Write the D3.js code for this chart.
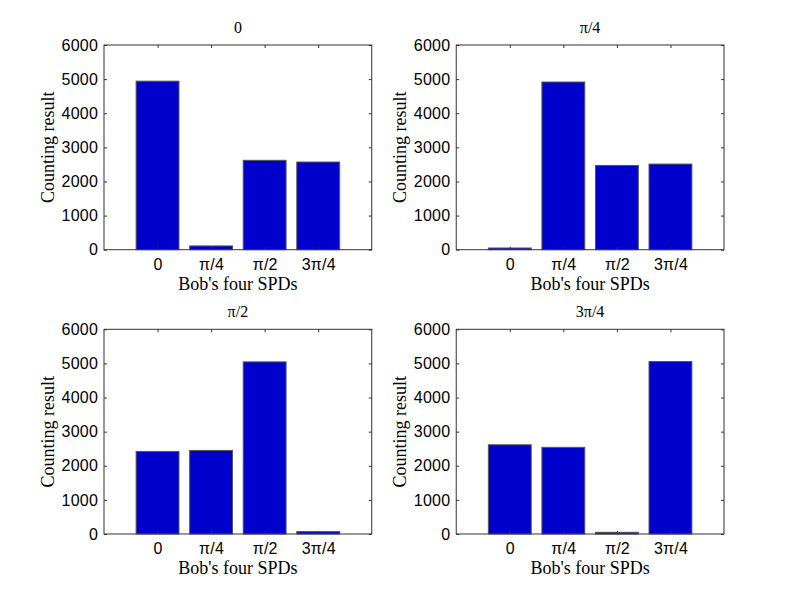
<!DOCTYPE html>
<html><head><meta charset="utf-8">
<script src="https://cdn.jsdelivr.net/npm/d3@7"></script>
<style>body{margin:0;background:#fff}</style>
</head><body>
<svg id="c" width="800" height="600"></svg>
<script>
const categories = ["0", "π/4", "π/2", "3π/4"];
const panelTitles = ["0", "π/4", "π/2", "3π/4"];
const countsAlice0   = [4940, 110, 2620, 2570];
const countsAlicePi4 = [50, 4915, 2470, 2510];
const countsAlicePi2 = [2420, 2450, 5045, 70];
const countsAlice3Pi4 = [2615, 2540, 50, 5055];
const yTicks = [0, 1000, 2000, 3000, 4000, 5000, 6000];
const series = [countsAlice0, countsAlicePi4, countsAlicePi2, countsAlice3Pi4];

const svg = d3.select("#c");
const W = 800, H = 600;
const panels = [
  {x: 0.13*W, y: 45, w: 0.3347*W, h: 204.7},
  {x: 0.5703*W, y: 45, w: 0.3347*W, h: 204.7},
  {x: 0.13*W, y: 329.3, w: 0.3347*W, h: 204.7},
  {x: 0.5703*W, y: 329.3, w: 0.3347*W, h: 204.7}
];
const sans = "'Liberation Sans', Arial, Helvetica, sans-serif";
const serif = "'Liberation Serif', 'Times New Roman', serif";

panels.forEach((p, i) => {
  const g = svg.append("g").attr("transform", `translate(${p.x},${p.y})`);
  const x = d3.scaleLinear().domain([0, 5]).range([0, p.w]);
  const y = d3.scaleLinear().domain([0, 6000]).range([p.h, 0]);
  const data = series[i].map((v, k) => ({cat: categories[k], pos: k + 1, v}));

  g.selectAll("rect.bar").data(data).enter().append("rect")
    .attr("class", "bar")
    .attr("x", d => x(d.pos - 0.4))
    .attr("width", x(0.8) - x(0))
    .attr("y", d => y(d.v))
    .attr("height", d => y(0) - y(d.v))
    .attr("fill", "#0000cc")
    .attr("stroke", "#555")
    .attr("stroke-width", 1);

  g.append("rect").attr("x", 0).attr("y", 0).attr("width", p.w).attr("height", p.h)
    .attr("fill", "none").attr("stroke", "#333").attr("stroke-width", 1);

  const tl = 3;
  const yl = g.append("g").call(d3.axisLeft(y).tickValues(yTicks).tickSize(-tl).tickPadding(6).tickFormat(d3.format("d")));
  yl.select(".domain").remove();
  yl.selectAll("line").attr("stroke", "#333");
  yl.selectAll("text").attr("font-family", sans).attr("font-size", 16).attr("fill", "#000").attr("letter-spacing", 0.2);
  const yr = g.append("g").attr("transform", `translate(${p.w},0)`).call(d3.axisRight(y).tickValues(yTicks).tickSize(-tl).tickFormat(""));
  yr.select(".domain").remove();
  yr.selectAll("line").attr("stroke", "#333");

  const xb = g.append("g").attr("transform", `translate(0,${p.h})`)
    .call(d3.axisBottom(x).tickValues([1,2,3,4]).tickSize(-tl).tickPadding(9).tickFormat((d, k) => categories[k]));
  xb.select(".domain").remove();
  xb.selectAll("line").attr("stroke", "#333");
  xb.selectAll("text").attr("font-family", sans).attr("font-size", 16).attr("fill", "#000").attr("letter-spacing", 0.2);
  const xt = g.append("g").call(d3.axisTop(x).tickValues([1,2,3,4]).tickSize(-tl).tickFormat(""));
  xt.select(".domain").remove();
  xt.selectAll("line").attr("stroke", "#333");

  g.append("text").attr("x", p.w/2).attr("y", -12).attr("text-anchor", "middle")
    .attr("font-family", serif).attr("font-size", 16).text(panelTitles[i]);
  g.append("text").attr("x", p.w/2).attr("y", p.h + 40).attr("text-anchor", "middle")
    .attr("font-family", serif).attr("font-size", 18).text("Bob's four SPDs");
  g.append("text").attr("transform", `translate(-50,${p.h/2}) rotate(-90)`).attr("text-anchor", "middle")
    .attr("font-family", serif).attr("font-size", 18).text("Counting result");
});
</script>
</body></html>
